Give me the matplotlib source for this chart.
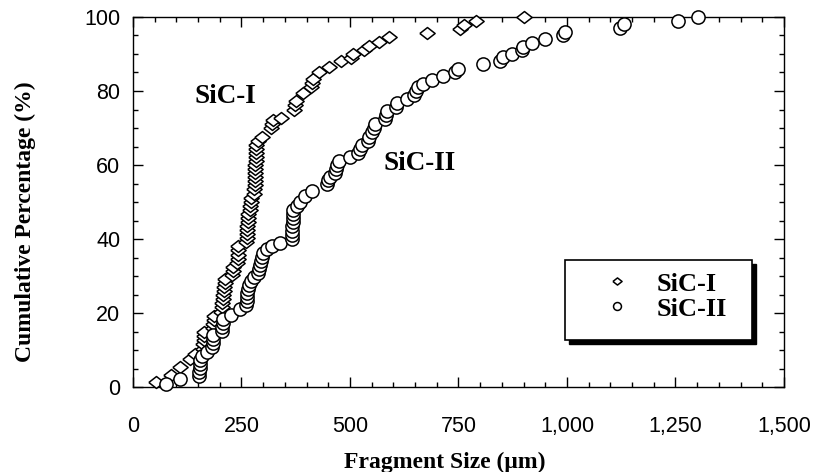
import matplotlib
matplotlib.use('Agg')
import matplotlib.pyplot as plt
from matplotlib.patches import Rectangle
from matplotlib.ticker import MultipleLocator, FuncFormatter

# fragment sizes (um) and cumulative percentage
sic1_size = [53, 88, 109, 132, 144, 162, 162, 163, 163, 164, 184, 185, 186, 186,
             204, 205, 206, 207, 208, 209, 210, 211, 212, 229, 230, 231, 240, 241,
             241, 242, 242, 261, 262, 262, 263, 263, 264, 264, 265, 269, 270, 271,
             272, 280, 280, 281, 281, 281, 282, 282, 282, 283, 283, 283, 284, 284,
             289, 298, 318, 320, 322, 341, 371, 373, 375, 392, 411, 413, 415, 429,
             452, 480, 503, 508, 533, 545, 566, 589, 677, 753, 763, 790, 902]
sic1_pct = [1.3, 3.2, 5.4, 7.5, 9.0, 10.4, 11.5, 12.6, 13.7, 14.8, 16.0, 17.1, 18.2, 19.3,
            20.4, 21.5, 22.6, 23.7, 24.8, 25.9, 27.0, 28.1, 29.2, 30.3, 31.4, 32.5, 33.6, 34.7,
            35.8, 36.9, 38.0, 39.1, 40.2, 41.3, 42.4, 43.5, 44.6, 45.7, 46.8, 47.9, 49.0, 50.1,
            51.2, 52.3, 53.4, 54.5, 55.6, 56.7, 57.8, 58.9, 60.0, 61.1, 62.2, 63.3, 64.4, 65.5,
            66.6, 67.5, 69.9, 71.0, 72.1, 72.8, 75.0, 76.1, 77.2, 79.5, 81.0, 82.1, 83.2, 85.0,
            86.6, 88.0, 89.0, 90.0, 91.0, 92.2, 93.3, 94.5, 95.6, 96.7, 97.8, 98.9, 100.0]

sic2_size = [76, 108, 153, 153, 154, 154, 155, 160, 170, 183, 184, 184, 185, 205,
             206, 207, 208, 226, 246, 261, 262, 262, 263, 265, 268, 272, 278, 288,
             290, 292, 294, 297, 300, 309, 320, 339, 366, 366, 367, 367, 368, 368,
             369, 369, 377, 385, 396, 412, 447, 450, 453, 465, 468, 471, 474, 500,
             518, 522, 528, 541, 545, 550, 555, 558, 580, 583, 585, 605, 608, 631,
             648, 652, 656, 668, 689, 714, 742, 749, 806, 845, 853, 873, 896, 899,
             919, 949, 991, 995, 1122, 1131, 1256, 1302]
sic2_pct = [0.9, 2.2, 3.0, 4.1, 5.2, 6.3, 7.4, 8.5, 9.6, 10.7, 11.8, 12.9, 14.0, 15.1,
            16.2, 17.3, 18.4, 19.5, 21.0, 22.1, 23.2, 24.3, 25.4, 26.5, 27.6, 28.6, 29.7, 30.8,
            31.9, 33.0, 34.1, 35.2, 36.3, 37.2, 38.2, 39.0, 40.1, 41.2, 42.3, 43.4, 44.5, 45.6,
            46.7, 47.8, 48.9, 50.0, 51.6, 53.0, 54.8, 55.9, 56.8, 57.8, 58.9, 60.0, 61.1, 62.3,
            63.3, 64.4, 65.5, 66.6, 67.7, 68.8, 69.9, 71.0, 72.3, 73.4, 74.5, 75.6, 76.7, 77.9,
            79.0, 80.1, 81.2, 82.0, 83.0, 84.0, 85.0, 86.0, 87.2, 88.1, 89.1, 90.0, 91.0, 92.0,
            93.0, 94.0, 95.0, 96.0, 97.0, 98.0, 99.0, 100.0]

serif = 'Liberation Serif'
sans = 'Liberation Sans'

# wide flat diamond like in the scan
diamond = [(-1, 0), (0, 0.78), (1, 0), (0, -0.78), (-1, 0)]

fig = plt.figure(figsize=(8.31, 4.72), dpi=100)
ax = fig.add_axes([0.16, 0.18, 0.7834, 0.784])

l1, = ax.plot(sic1_size, sic1_pct, linestyle='none', marker=diamond, ms=11,
              mfc='white', mec='black', mew=1.1, clip_on=False, zorder=3)
l2, = ax.plot(sic2_size, sic2_pct, linestyle='none', marker='o', ms=9.5,
              mfc='white', mec='black', mew=1.1, clip_on=False, zorder=3)

ax.set_xlim(0, 1500)
ax.set_ylim(0, 100)
ax.xaxis.set_major_locator(MultipleLocator(250))
ax.xaxis.set_minor_locator(MultipleLocator(50))
ax.yaxis.set_major_locator(MultipleLocator(20))
ax.yaxis.set_minor_locator(MultipleLocator(5))
ax.xaxis.set_major_formatter(FuncFormatter(lambda v, p: f'{int(v):,}'))

ax.tick_params(which='both', direction='in', top=True, right=True, width=1)
ax.tick_params(which='major', length=7)
ax.tick_params(which='minor', length=3.5)
ax.tick_params(axis='x', pad=21)
ax.tick_params(axis='y', pad=9)
for lab in ax.get_xticklabels() + ax.get_yticklabels():
    lab.set_fontfamily(sans)
    lab.set_fontsize(15.5)
for s in ax.spines.values():
    s.set_linewidth(1)

ax.set_xlabel('Fragment Size (\u03bcm)', fontfamily=serif, fontweight='bold', fontsize=17)
ax.set_ylabel('Cumulative Percentage (%)', fontfamily=serif, fontweight='bold', fontsize=17)
ax.xaxis.set_label_coords(0.479, -0.176)
ax.yaxis.set_label_coords(-0.149, 0.446)

ax.text(212, 78.4, 'SiC-I', fontfamily=serif, fontweight='bold', fontsize=19.5,
        ha='center', va='center')
ax.text(661, 60.3, 'SiC-II', fontfamily=serif, fontweight='bold', fontsize=19.5,
        ha='center', va='center')

# legend box with a hard black shadow
ax.add_patch(Rectangle((0.670, 0.116), 0.287, 0.216, transform=ax.transAxes,
                       facecolor='black', edgecolor='black', zorder=4, clip_on=False))
ax.add_patch(Rectangle((0.664, 0.127), 0.287, 0.216, transform=ax.transAxes,
                       facecolor='white', edgecolor='black', lw=1.2, zorder=5, clip_on=False))
leg = ax.legend([l1, l2], ['SiC-I', 'SiC-II'], loc='center left',
                bbox_to_anchor=(0.703, 0.245), frameon=False, numpoints=1,
                handlelength=1, handletextpad=1.0, labelspacing=0.05, borderpad=0,
                markerscale=0.6, prop={'family': serif, 'weight': 'bold', 'size': 19})
leg.set_zorder(6)

fig.savefig('out.png', dpi=100)
